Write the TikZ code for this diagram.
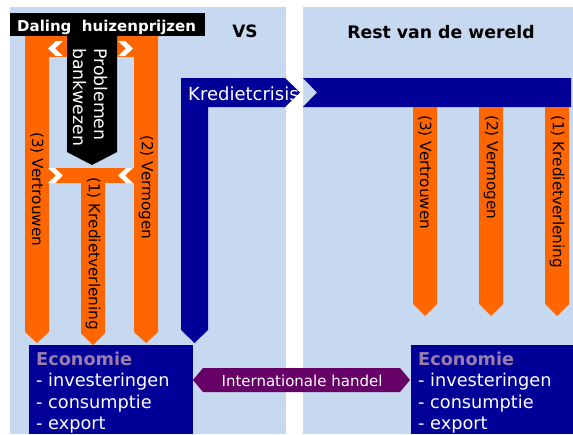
\documentclass[tikz,border=0pt]{standalone}
\usepackage{fontspec}
\setmainfont{DejaVu Sans}
\definecolor{panel}{RGB}{198,217,240}
\definecolor{orng}{RGB}{255,102,0}
\definecolor{navy}{RGB}{0,0,153}
\definecolor{purp}{RGB}{102,0,102}
\definecolor{econ}{RGB}{155,125,170}
\tikzset{
  vlabel/.style={rotate=-90, anchor=west, inner sep=0, text=black, font=\fontsize{15.3}{18}\selectfont},
  ecotitle/.style={anchor=base west, inner sep=0, text=econ, font=\fontsize{17.7}{21}\selectfont\bfseries},
  ecoline/.style={anchor=base west, inner sep=0, text=white, font=\fontsize{17.7}{21}\selectfont},
  chev/.style={fill=white},
}
\begin{document}
\begin{tikzpicture}[x=1pt,y=-1pt]
\useasboundingbox (0,0) rectangle (573,434);
\fill[white] (0,0) rectangle (573,434);
% panels
\fill[panel] (10,7) rectangle (286,434);
\fill[panel] (303,7) rectangle (573,434);

% left panel orange structure
\fill[orng] (25,36) -- (49,36) -- (49,332) -- (37,343) -- (25,332) -- cycle;
\fill[orng] (134,36) -- (158,36) -- (158,332) -- (146,343) -- (134,332) -- cycle;
\fill[orng] (49,36) rectangle (134,57);
\fill[orng] (49,168) rectangle (134,183);
\fill[orng] (81,183) -- (105,183) -- (105,333) -- (93,345) -- (81,333) -- cycle;
% white chevrons
\fill[chev] (63,41) -- (56,41) -- (48,48.5) -- (56,56) -- (63,56) -- (55,48.5) -- cycle;
\fill[chev] (118,41) -- (125,41) -- (133,48.5) -- (125,56) -- (118,56) -- (126,48.5) -- cycle;
\fill[chev] (48,168) -- (55,168) -- (63,175.5) -- (55,183) -- (48,183) -- (56,175.5) -- cycle;
\fill[chev] (133,168) -- (126,168) -- (118,175.5) -- (126,183) -- (133,183) -- (125,175.5) -- cycle;
% black pentagon
\fill[black] (67,36) -- (117,36) -- (117,152) -- (92,165) -- (67,152) -- cycle;
% black title box
\fill[black] (10,13) rectangle (205,36);

% Kredietcrisis bar
\fill[navy] (181,78) -- (285,78) -- (300,92.5) -- (285,107) -- (208,107) -- (208,330) -- (194.5,343) -- (181,330) -- cycle;
\fill[navy] (303,78) -- (571,78) -- (571,107) -- (303,107) -- (317,92.5) -- cycle;

% right panel orange arrows
\fill[orng] (413,107) -- (437,107) -- (437,304) -- (425,316) -- (413,304) -- cycle;
\fill[orng] (479,107) -- (503,107) -- (503,304) -- (491,316) -- (479,304) -- cycle;
\fill[orng] (545,107) -- (569,107) -- (569,304) -- (557,316) -- (545,304) -- cycle;

% Economie boxes
\fill[navy] (29,345) rectangle (193,434);
\fill[navy] (411,345) rectangle (573,434);

% Internationale handel
\fill[purp] (193,380) -- (203,368) -- (400,368) -- (410,380) -- (400,392) -- (203,392) -- cycle;

% texts
\node[anchor=base west, inner sep=0, text=white, font=\fontsize{15}{18}\selectfont\bfseries] (daling) at (17,31) {Daling\ \ huizenprijzen};
\node[anchor=base, inner sep=0, font=\fontsize{17}{20}\selectfont\bfseries] (vs) at (245,37) {VS};
\node[anchor=base, inner sep=0, font=\fontsize{17.3}{20}\selectfont\bfseries] (rest) at (441,38) {Rest van de wereld};
\node[rotate=-90, anchor=north west, align=left, inner sep=0, text=white, font=\fontsize{17.3}{21}\selectfont] (probl) at (108,48) {Problemen\\bankwezen};
\node[anchor=base west, inner sep=0, text=white, font=\fontsize{18}{20}\selectfont] (krediet) at (188,100) {Kredietcrisis};

\node[vlabel] (lv) at (37,132) {(3) Vertrouwen};
\node[vlabel] (lm) at (146,135) {(2) Vermogen};
\node[vlabel] (lk) at (93,177) {(1) Kredietverlening};
\node[vlabel] (rv) at (425,115) {(3) Vertrouwen};
\node[vlabel] (rm) at (491,115) {(2) Vermogen};
\node[vlabel] (rk) at (557,115) {(1) Kredietverlening};

\node[anchor=base, inner sep=0, text=white, font=\fontsize{15}{18}\selectfont] (handel) at (302,386) {Internationale handel};

\node[ecotitle] (le0) at (36,365) {Economie};
\node[ecoline] (le1) at (36,386.5) {- investeringen};
\node[ecoline] (le2) at (36,408) {- consumptie};
\node[ecoline] (le3) at (36,429) {- export};
\node[ecotitle] (re0) at (418,365) {Economie};
\node[ecoline] (re1) at (418,386.5) {- investeringen};
\node[ecoline] (re2) at (418,408) {- consumptie};
\node[ecoline] (re3) at (418,429) {- export};
\end{tikzpicture}
\end{document}
